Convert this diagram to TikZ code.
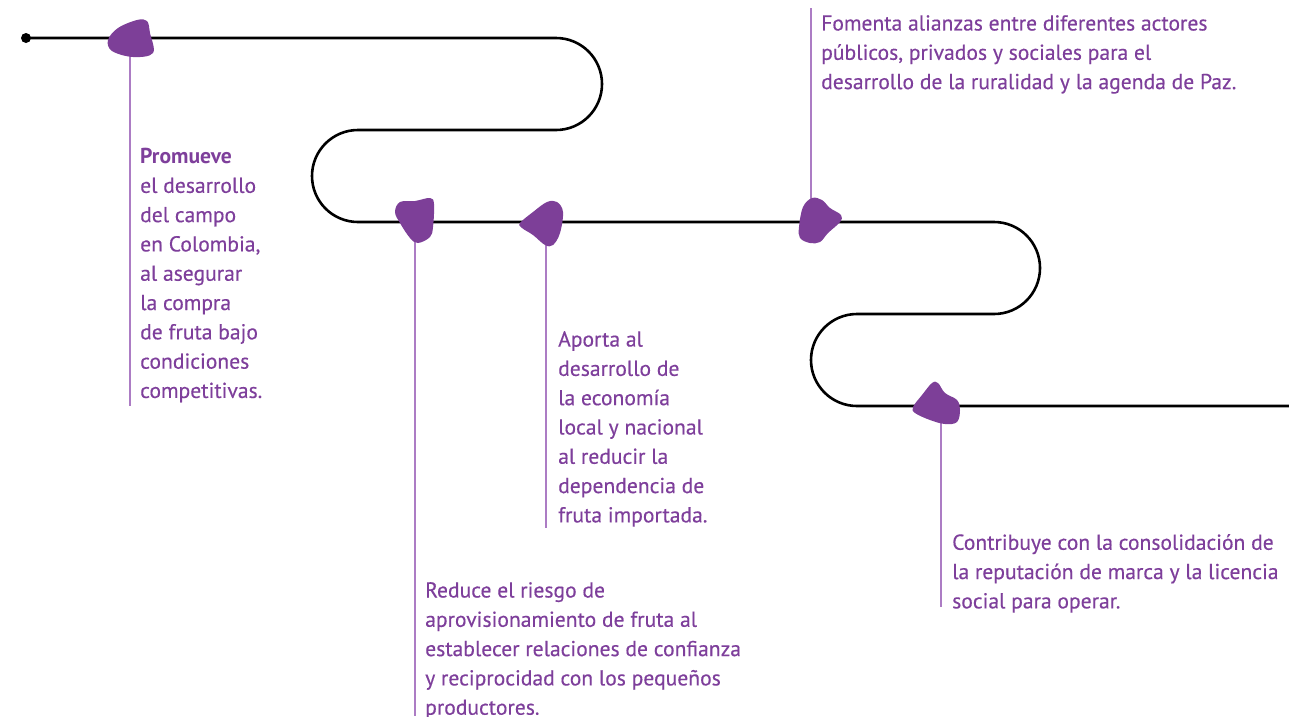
\documentclass[tikz,border=0pt]{standalone}
\usepackage{fontspec}
\setmainfont{PT Sans}[UprightFeatures={FakeBold=0.35}]
\definecolor{blobpurple}{HTML}{7D3F98}
\definecolor{textpurple}{HTML}{7E3F9B}
\definecolor{stemlilac}{HTML}{AC7CC4}

\begin{document}
\begin{tikzpicture}[x=1pt, y=-1pt,
	route/.style={line width=2.6pt, black},
	stem/.style={line width=1.6pt, stemlilac},
	blob/.style={fill=blobpurple},
	note/.style={anchor=north west, inner sep=0pt, align=left, text=textpurple,
		font=\fontsize{21.6}{29.3}\selectfont}]
	\useasboundingbox (0,0) rectangle (1289,716);
	
	\path (26,38) coordinate (start)
		(130,38) coordinate (b1) (415,222) coordinate (b2) (546,222) coordinate (b3)
		(811,222) coordinate (b4) (941,406) coordinate (b5)
		(130,406) coordinate (e1) (415,716) coordinate (e2) (546,528) coordinate (e3)
		(811,8) coordinate (e4) (941,607) coordinate (e5);
	
	% the winding road
	\draw[route] (start) -- (556,38) arc[start angle=-90, end angle=90, radius=46]
		-- (358,130) arc[start angle=270, end angle=90, radius=46]
		-- (994,222) arc[start angle=-90, end angle=90, radius=46]
		-- (857,314) arc[start angle=270, end angle=90, radius=46] -- (1289,406);
	\fill (start) circle (5);
	
	\draw[stem] (b1) -- (e1) (b2) -- (e2) (b3) -- (e3) (b4) -- (e4) (b5) -- (e5);
	
	% blobs
	\fill[blob] plot[smooth cycle, tension=0.6] coordinates {(108,40) (118,28) (137,20) (147,21) (150,33) (153,53) (133,57) (112,51)};
	\fill[blob] plot[smooth cycle, tension=0.6] coordinates {(395,212) (400,202) (415,201) (430,198) (434,204) (433,227) (430,237) (418,243) (410,238) (400,223)};
	\fill[blob] plot[smooth cycle, tension=0.6] coordinates {(520,223) (533,212) (547,202) (557,202) (563,212) (560,233) (553,245) (545,245) (533,235) (522,228)};
	\fill[blob] plot[smooth cycle, tension=0.6] coordinates {(799,227) (803,207) (812,198) (822,200) (830,208) (841,215) (840,222) (828,233) (820,242) (810,243) (800,238)};
	\fill[blob] plot[smooth cycle, tension=0.6] coordinates {(913,407) (922,395) (932,383) (938,383) (945,393) (957,400) (960,410) (957,422) (945,424) (930,420) (915,413)};
	
	% texts
	\node[note] (t1) at (140,148) {\textbf{Promueve}\\el desarrollo\\del campo\\en Colombia,\\al asegurar\\la compra\\de fruta bajo\\condiciones\\competitivas.};
	\node[note] (t2) at (425,582) {Reduce el riesgo de\\aprovisionamiento de fruta al\\establecer relaciones de confianza\\y reciprocidad con los pequeños\\productores.};
	\node[note] (t3) at (558,331) {Aporta al\\desarrollo de\\la economía\\local y nacional\\al reducir la\\dependencia de\\fruta importada.};
	\node[note] (t4) at (821,15) {Fomenta alianzas entre diferentes actores\\públicos, privados y sociales para el\\desarrollo de la ruralidad y la agenda de Paz.};
	\node[note] (t5) at (952,534) {Contribuye con la consolidación de\\la reputación de marca y la licencia\\social para operar.};
\end{tikzpicture}
\end{document}
